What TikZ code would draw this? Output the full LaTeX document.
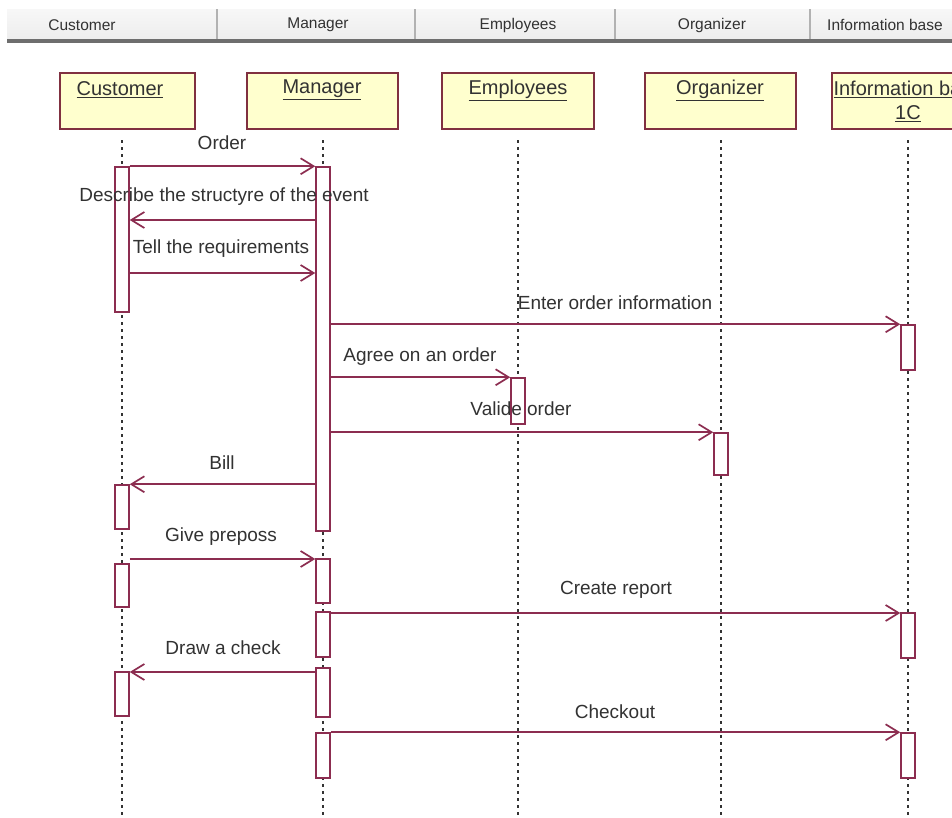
\documentclass[tikz,border=0pt]{standalone}
\usepackage{fontspec}
\setmainfont{Liberation Sans}
\usetikzlibrary{arrows.meta,fit}

\definecolor{msg}{RGB}{140,45,80}
\definecolor{boxfill}{RGB}{255,255,206}
\definecolor{boxline}{RGB}{128,48,64}
\definecolor{txt}{RGB}{50,50,50}
\definecolor{hdrline}{RGB}{110,110,110}

\tikzset{
  lifeline/.style={line width=2.2pt, dash pattern=on 3pt off 4pt, draw=black!80},
  act/.style={draw=msg, fill=white, line width=1.5pt, inner sep=0pt, minimum width=14pt},
  msgarrow/.style={draw=msg, line width=1.7pt, -{Straight Barb[length=13pt,width=16pt]}},
  participant/.style={draw=boxline, fill=boxfill, line width=1.5pt, minimum height=56pt, inner sep=0pt},
  ptext/.style={text=txt, font=\fontsize{20}{24}\selectfont, inner sep=0pt, align=center},
  msglabel/.style={text=txt, font=\fontsize{19}{22}\selectfont, inner sep=0pt},
  hdrtext/.style={text=txt, font=\fontsize{15.5}{18}\selectfont, inner sep=0pt},
  hdrsep/.style={draw=gray!60, line width=1.2pt},
}

% activation bar on lifeline x from y1 to y2
\newcommand\actbar[4]{\node[act, fit={(#2,#3) (#2,#4)}] (#1) {};}

\begin{document}
\begin{tikzpicture}[x=1pt, y=-1pt]
\useasboundingbox (0,0) rectangle (952,817);
\fill[white] (0,0) rectangle (952,817);
\clip (0,0) rectangle (952,817);

% column header strip
\shade[top color=gray!6, bottom color=gray!14] (7,9) rectangle (952,40);
\draw[hdrline, line width=4pt] (7,40.5) -- (952,40.5);
\foreach \hx in {217,415,615,810} \draw[hdrsep] (\hx,9) -- (\hx,39);
\node[hdrtext] (hC) at (82,25) {Customer};
\node[hdrtext] (hM) at (318,25) {Manager};
\node[hdrtext] (hE) at (518,25) {Employees};
\node[hdrtext] (hO) at (712,25) {Organizer};
\node[hdrtext, anchor=west] (hI) at (827,25) {Information base};

% participants
\node[participant, minimum width=135pt] (pC) at (127.5,101) {};
\node[participant, minimum width=151pt] (pM) at (322.5,101) {};
\node[participant, minimum width=152pt] (pE) at (518,101) {};
\node[participant, minimum width=151pt] (pO) at (720.5,101) {};
\node[participant, minimum width=152pt] (pI) at (908,101) {};
\node[ptext] (tC) at (120,90) {\underline{Customer}};
\node[ptext] (tM) at (322,90) {\underline{Manager}};
\node[ptext] (tE) at (518,90) {\underline{Employees}};
\node[ptext] (tO) at (720,90) {\underline{Organizer}};
\node[ptext] (tI) at (908,89) {\underline{Information base}};
\node[ptext] (tI2) at (908,114) {\underline{1C}};

% lifelines
\foreach \n/\lx in {C/122,M/323,E/518,O/721,I/908}{
  \coordinate (l\n t) at (\lx,140);
  \coordinate (l\n b) at (\lx,817);
  \draw[lifeline] (l\n t) -- (l\n b);
}

% activation bars
\actbar{a1}{122}{167}{312}
\actbar{a2}{122}{485}{529}
\actbar{a3}{122}{564}{607}
\actbar{a4}{122}{672}{716}
\actbar{m1}{323}{167}{531}
\actbar{m2}{323}{559}{603}
\actbar{m3}{323}{612}{657}
\actbar{m4}{323}{668}{717}
\actbar{m5}{323}{733}{778}
\actbar{e1}{518}{378}{424}
\actbar{o1}{721}{433}{475}
\actbar{i1}{908}{325}{370}
\actbar{i2}{908}{613}{658}
\actbar{i3}{908}{733}{778}

% message levels
\coordinate (r2) at (0,220);
\coordinate (r3) at (0,273);
\coordinate (r8) at (0,559);
\coordinate (r9) at (0,613);
\coordinate (r10) at (0,672);

% messages
\draw[msgarrow] (a1.north east) -- (m1.north west);
\draw[msgarrow] (m1.west |- r2) -- (a1.east |- r2);
\draw[msgarrow] (a1.east |- r3) -- (m1.west |- r3);
\draw[msgarrow] (m1.east |- i1.north) -- (i1.north west);
\draw[msgarrow] (m1.east |- e1.north) -- (e1.north west);
\draw[msgarrow] (m1.east |- o1.north) -- (o1.north west);
\draw[msgarrow] (m1.west |- a2.north) -- (a2.north east);
\draw[msgarrow] (a3.east |- r8) -- (m2.west |- r8);
\draw[msgarrow] (m3.east |- r9) -- (i2.west |- r9);
\draw[msgarrow] (m4.west |- r10) -- (a4.east |- r10);
\draw[msgarrow] (m5.east |- i3.north) -- (i3.north west);

% message labels
\node[msglabel] (n1) at (222,143) {Order};
\node[msglabel] (n2) at (224,197) {Describe the structyre of the event};
\node[msglabel] (n3) at (221,249) {Tell the requirements};
\node[msglabel] (n4) at (615,303) {Enter order information};
\node[msglabel] (n5) at (420,357) {Agree on an order};
\node[msglabel] (n6) at (521,409) {Valide order};
\node[msglabel] (n7) at (222,463) {Bill};
\node[msglabel] (n8) at (221,537) {Give preposs};
\node[msglabel] (n9) at (616,590) {Create report};
\node[msglabel] (n10) at (223,648) {Draw a check};
\node[msglabel] (n11) at (615,712) {Checkout};
\end{tikzpicture}
\end{document}
